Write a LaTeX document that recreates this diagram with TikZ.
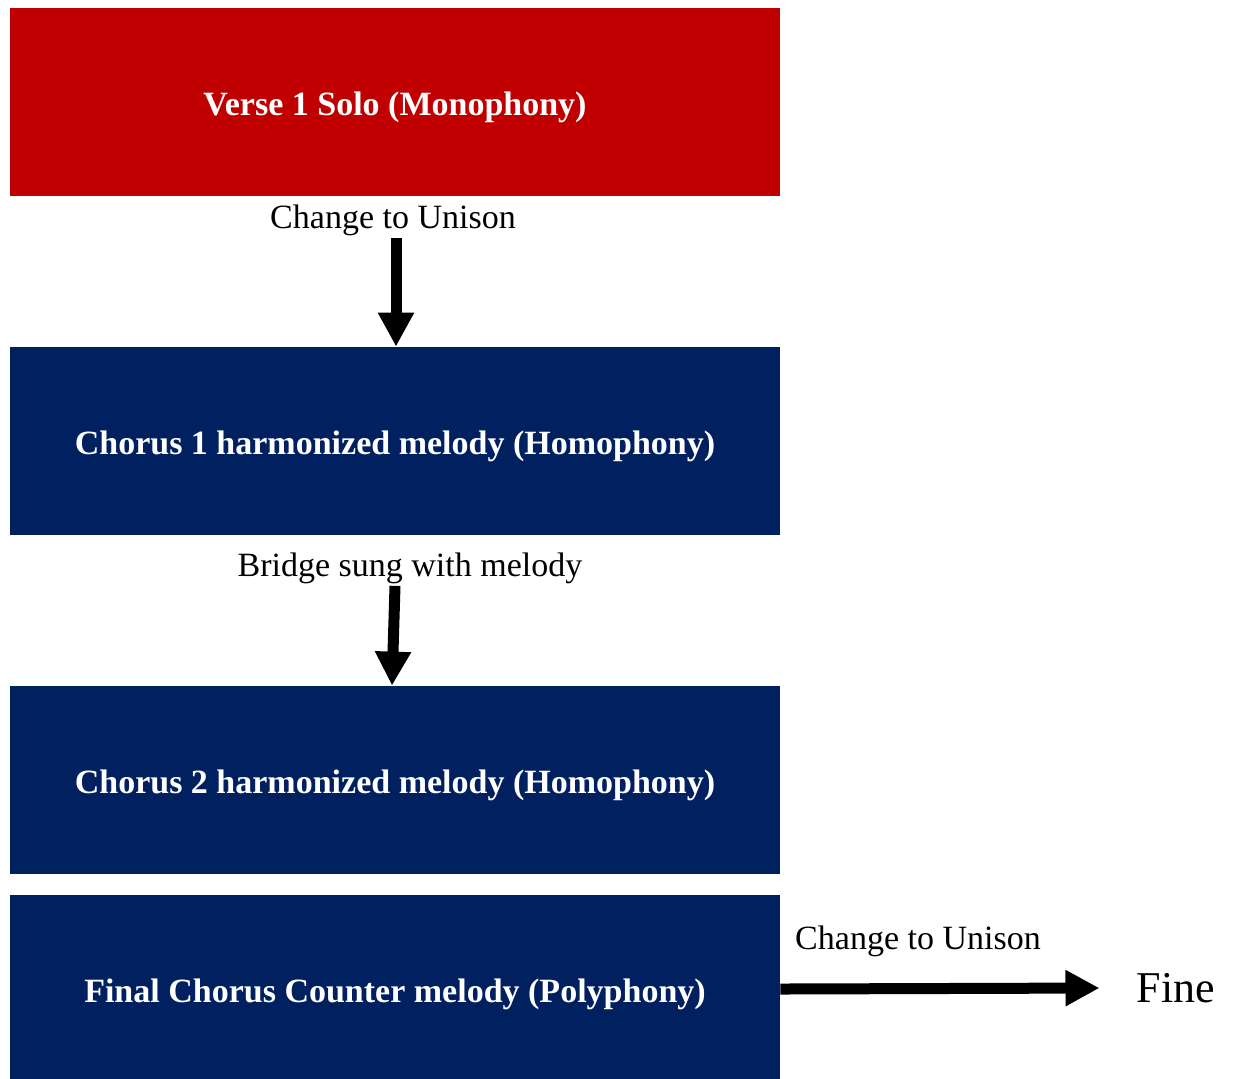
\documentclass[tikz,border=0pt]{standalone}
\usepackage{fontspec}
\setmainfont{Liberation Serif}
\usetikzlibrary{arrows.meta}
\definecolor{versered}{HTML}{C00000}
\definecolor{chorusblue}{HTML}{002060}
\tikzset{
  part/.style={fill=#1, text=white, minimum width=385pt, minimum height=94pt,
    inner sep=0pt, text height=16.5pt, text depth=3pt,
    font=\fontsize{17}{20}\selectfont\bfseries},
  cue/.style={inner sep=1pt, font=\fontsize{17}{20}\selectfont},
  flow/.style={line width=5.5pt, -{Triangle[length=17pt,width=17pt]}}
}
\begin{document}
\begin{tikzpicture}[x=0.5pt, y=-0.5pt]
  \useasboundingbox (0,0) rectangle (1234,1078);
  \node[part=versered] (verse) at (395,102) {Verse 1 Solo (Monophony)};
  \foreach \name/\y/\txt in {chorus1/441/{Chorus 1 harmonized melody (Homophony)},
      chorus2/780/{Chorus 2 harmonized melody (Homophony)},
      final/989/{Final Chorus Counter melody (Polyphony)}}
    \node[part=chorusblue] (\name) at (395,\y) {\txt};
  \node[cue] (unison1) at (393,220) {Change to Unison};
  \node[cue] (bridge) at (410,568) {Bridge sung with melody};
  \node[cue] (unison2) at (918,941) {Change to Unison};
  \node[inner sep=0pt, font=\fontsize{22}{26}\selectfont] (fine) at (1176,988) {Fine};
  \draw[flow] ([xshift=1.5pt]unison1.south) -- ([xshift=0.5pt]chorus1.north);
  \draw[flow] ([xshift=-7.5pt]bridge.south) -- ([xshift=-1.5pt]chorus2.north);
  \draw[flow] (final.east) -- ([xshift=-18.5pt]fine.west);
\end{tikzpicture}
\end{document}
